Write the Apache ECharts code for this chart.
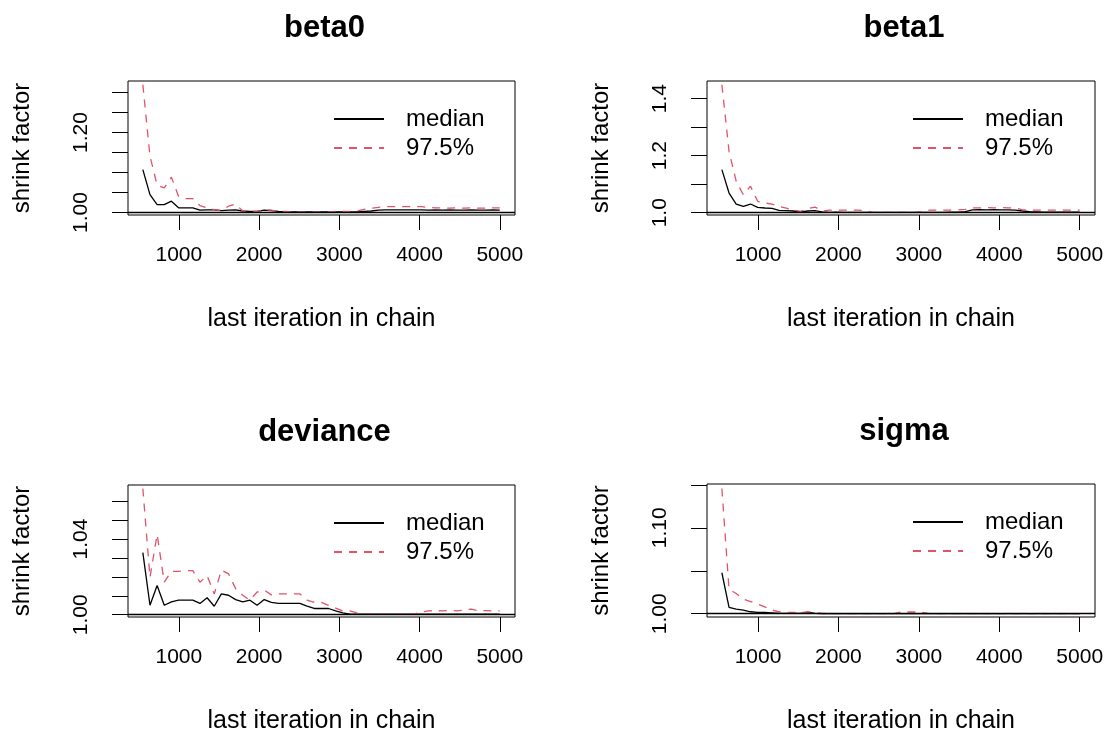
<!DOCTYPE html>
<html>
<head>
<meta charset="utf-8">
<script src="https://cdn.jsdelivr.net/npm/echarts@6/dist/echarts.min.js"></script>
<style>
  html, body { margin: 0; padding: 0; background: #fff; }
  #main { width: 1110px; height: 735px; }
</style>
</head>
<body>
<div id="main"></div>
<script>
// last iteration of each bin (x values shared by all panels)
var iterations = [551, 640, 729, 818, 907, 996, 1085, 1174, 1263, 1352, 1441, 1530, 1619, 1708, 1797,
  1886, 1975, 2064, 2153, 2242, 2331, 2420, 2509, 2598, 2687, 2776, 2865, 2954, 3043, 3132, 3221,
  3310, 3399, 3488, 3577, 3666, 3755, 3844, 3933, 4022, 4111, 4200, 4289, 4378, 4467, 4556, 4645,
  4734, 4823, 4912, 5000];

var panelTitles = ['beta0', 'beta1', 'deviance', 'sigma'];
var xTicks = [1000, 2000, 3000, 4000, 5000];

var beta0Median = [1.1075, 1.045, 1.020, 1.020, 1.0285, 1.012, 1.012, 1.012, 1.006, 1.007, 1.007, 1.005, 1.006, 1.007, 1.004,
  1.003, 1.003, 1.006, 1.005, 1.003, 1.002, 1.002, 1.002, 1.002, 1.002, 1.002, 1.002, 1.002, 1.002, 1.002, 1.002,
  1.003, 1.004, 1.006, 1.007, 1.007, 1.007, 1.007, 1.007, 1.007, 1.006, 1.007, 1.006, 1.007, 1.006, 1.006, 1.007,
  1.006, 1.006, 1.007, 1.006];
var beta0Upper = [1.32, 1.141, 1.0685, 1.062, 1.0885, 1.041, 1.035, 1.035, 1.0175, 1.012, 1.0075, 1.005, 1.016, 1.021, 1.004,
  1.003, 1.003, 1.007, 1.006, 1.003, 1.003, 1.002, 1.002, 1.002, 1.002, 1.002, 1.002, 1.003, 1.003, 1.003, 1.004,
  1.008, 1.011, 1.013, 1.015, 1.015, 1.015, 1.015, 1.015, 1.015, 1.013, 1.012, 1.012, 1.011, 1.012, 1.011, 1.012,
  1.011, 1.011, 1.012, 1.012];

var beta1Median = [1.151, 1.069, 1.0305, 1.022, 1.0305, 1.019, 1.0165, 1.015, 1.008, 1.007, 1.006, 1.003, 1.006, 1.007, 1.003,
  1.001, 1.002, 1.001, 1.001, 1.001, 1.001, 1.001, 1.001, 1.001, 1.001, 1.001, 1.001, 1.001, 1.001, 1.001, 1.001,
  1.001, 1.002, 1.002, 1.004, 1.010, 1.011, 1.010, 1.011, 1.010, 1.010, 1.009, 1.006, 1.004, 1.003, 1.002, 1.002,
  1.002, 1.002, 1.002, 1.002];
var beta1Upper = [1.449, 1.215, 1.11, 1.063, 1.093, 1.04, 1.034, 1.0305, 1.022, 1.0165, 1.009, 1.005, 1.014, 1.02, 1.006,
  1.009, 1.009, 1.009, 1.009, 1.009, 1.008, 1.001, 1.001, 1.001, 1.001, 1.001, 1.001, 1.001, 1.004, 1.009, 1.009,
  1.009, 1.009, 1.010, 1.012, 1.017, 1.017, 1.018, 1.017, 1.018, 1.017, 1.017, 1.010, 1.009, 1.009, 1.009, 1.009,
  1.009, 1.009, 1.009, 1.009];

var devianceMedian = [1.0328, 1.005, 1.0155, 1.005, 1.0068, 1.0077, 1.0077, 1.0077, 1.006, 1.009, 1.0045, 1.011, 1.0103, 1.008, 1.0068,
  1.0077, 1.005, 1.008, 1.0065, 1.006, 1.006, 1.006, 1.006, 1.0045, 1.0033, 1.0033, 1.0033, 1.002, 1.001, 1.0003, 1.0003,
  1.0003, 1.0003, 1.0003, 1.0003, 1.0003, 1.0003, 1.0003, 1.0003, 1.0003, 1.0003, 1.0003, 1.0003, 1.0003, 1.0003, 1.0003, 1.0003,
  1.0003, 1.0003, 1.0003, 1.0003];
var devianceUpper = [1.0667, 1.0198, 1.0424, 1.0172, 1.0229, 1.0229, 1.0233, 1.0233, 1.0172, 1.0207, 1.011, 1.0236, 1.0216, 1.0138, 1.0103,
  1.0077, 1.012, 1.013, 1.0105, 1.011, 1.011, 1.011, 1.011, 1.0077, 1.0065, 1.0065, 1.005, 1.0035, 1.002, 1.002, 1.001,
  1.0005, 1.0003, 1.0003, 1.0003, 1.0003, 1.0003, 1.0003, 1.0003, 1.0015, 1.002, 1.0022, 1.002, 1.0023, 1.002, 1.0025, 1.003,
  1.002, 1.0022, 1.002, 1.002];

var sigmaMedian = [1.0477, 1.0073, 1.0054, 1.0043, 1.0023, 1.0015, 1.0015, 1.001, 1.0005, 1.0004, 1.0004, 1.0004, 1.002, 1.0004, 1.0002,
  1.0002, 1.0002, 1.0002, 1.0002, 1.0002, 1.0002, 1.0002, 1.0002, 1.0002, 1.0002, 1.0002, 1.0002, 1.0002, 1.0002, 1.0002, 1.0002,
  1.0002, 1.0002, 1.0002, 1.0002, 1.0002, 1.0002, 1.0002, 1.0002, 1.0002, 1.0002, 1.0002, 1.0002, 1.0002, 1.0002, 1.0002, 1.0002,
  1.0002, 1.0002, 1.0002, 1.0002];
var sigmaUpper = [1.1458, 1.0285, 1.0235, 1.017, 1.0142, 1.0112, 1.008, 1.0043, 1.0023, 1.0015, 1.0015, 1.0015, 1.002, 1.0015, 1.0003,
  1.0002, 1.0002, 1.0002, 1.0002, 1.0002, 1.0002, 1.0002, 1.0002, 1.0002, 1.0002, 1.002, 1.002, 1.002, 1.0015, 1.0002, 1.0002,
  1.0002, 1.0002, 1.0002, 1.0002, 1.0002, 1.0002, 1.0002, 1.0002, 1.0002, 1.0002, 1.0002, 1.0002, 1.0002, 1.0002, 1.0002, 1.0002,
  1.0002, 1.0002, 1.0002, 1.0002];

var yTicks = [
  [1.00, 1.05, 1.10, 1.15, 1.20, 1.25, 1.30],
  [1.0, 1.1, 1.2, 1.3, 1.4],
  [1.00, 1.01, 1.02, 1.03, 1.04, 1.05, 1.06],
  [1.00, 1.05, 1.10, 1.15]
];
var yLabels = [
  [1.00, 1.20],
  [1.0, 1.2, 1.4],
  [1.00, 1.04],
  [1.00, 1.10]
];
var yDigits = [2, 1, 2, 2];
var yRange = [[0.994, 1.329], [0.992, 1.462], [0.9988, 1.0686], [0.9962, 1.151]];

var medians = [beta0Median, beta1Median, devianceMedian, sigmaMedian];
var uppers = [beta0Upper, beta1Upper, devianceUpper, sigmaUpper];

var FONT = 'Liberation Sans, Arial, sans-serif';
var RED = '#DF536B';

var grids = [
  {left: 128, top: 81, width: 387, height: 134},
  {left: 707, top: 81, width: 388, height: 134},
  {left: 128, top: 485, width: 387, height: 134},
  {left: 707, top: 484, width: 388, height: 135}
];

function pairs(vals) {
  return iterations.map(function (x, i) { return [x, vals[i]]; });
}

var option = {
  backgroundColor: '#fff',
  animation: false,
  title: [],
  legend: [],
  grid: [],
  xAxis: [],
  yAxis: [],
  series: []
};

grids.forEach(function (g, k) {
  option.grid.push({
    left: g.left, top: g.top, width: g.width, height: g.height,
    show: true, borderColor: '#000', borderWidth: 1, backgroundColor: 'transparent'
  });
  option.title.push({
    text: panelTitles[k],
    left: g.left + g.width / 2 - 2,
    top: g.top - 73,
    textAlign: 'center',
    textStyle: {fontFamily: FONT, fontWeight: 'bold', fontSize: 31, color: '#000'}
  });
  option.xAxis.push({
    type: 'value', gridIndex: k, min: 366, max: 5190,
    name: 'last iteration in chain', nameLocation: 'middle', nameGap: 92,
    nameTextStyle: {fontFamily: FONT, fontSize: 25, color: '#000'},
    axisLine: {show: false},
    splitLine: {show: false},
    axisTick: {show: true, length: 15, customValues: xTicks, lineStyle: {color: '#000', width: 1}},
    axisLabel: {
      customValues: xTicks, margin: 30, fontFamily: FONT, fontSize: 21, color: '#000',
      formatter: function (v) { return String(v); }
    }
  });
  option.yAxis.push({
    type: 'value', gridIndex: k, min: yRange[k][0], max: yRange[k][1],
    name: 'shrink factor', nameLocation: 'middle', nameGap: 94, nameRotate: 90,
    nameTextStyle: {fontFamily: FONT, fontSize: 24, color: '#000'},
    axisLine: {show: false},
    splitLine: {show: false},
    axisTick: {show: true, length: 16, customValues: yTicks[k], lineStyle: {color: '#000', width: 1}},
    axisLabel: {
      customValues: yLabels[k], rotate: 90, margin: 36,
      fontFamily: FONT, fontSize: 21, color: '#000',
      formatter: function (v) { return v.toFixed(yDigits[k]); }
    }
  });
  option.legend.push({
    data: ['median', '97.5%'],
    orient: 'vertical',
    left: g.left + 205, top: g.top + 26,
    padding: 0, itemWidth: 50, itemHeight: 14, itemGap: 5,
    selectedMode: false,
    itemStyle: {opacity: 0},
    textStyle: {fontFamily: FONT, fontSize: 24, lineHeight: 24, color: '#000', padding: [0, 0, 0, 17]}
  });
  option.series.push({
    name: 'median', type: 'line', xAxisIndex: k, yAxisIndex: k,
    data: pairs(medians[k]), symbol: 'none', silent: true,
    lineStyle: {color: '#000', width: 1.3},
    itemStyle: {color: '#000'},
    markLine: {
      silent: true, symbol: 'none', label: {show: false},
      lineStyle: {color: '#000', type: 'solid', width: 1.3},
      data: [{yAxis: 1}]
    }
  });
  option.series.push({
    name: '97.5%', type: 'line', xAxisIndex: k, yAxisIndex: k,
    data: pairs(uppers[k]), symbol: 'none', silent: true,
    lineStyle: {color: RED, width: 1.3, type: [8, 7]},
    itemStyle: {color: RED}
  });
});

var myChart = echarts.init(document.getElementById('main'));
myChart.setOption(option);
</script>
</body>
</html>
